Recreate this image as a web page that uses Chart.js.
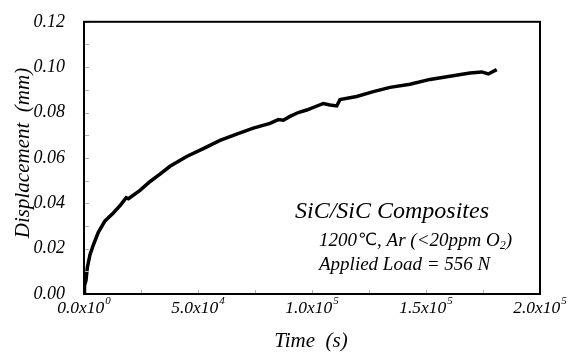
<!DOCTYPE html>
<html>
<head>
<meta charset="utf-8">
<script src="https://cdn.jsdelivr.net/npm/chart.js@4.4.1/dist/chart.umd.min.js"></script>
<style>
  html, body { margin: 0; padding: 0; background: #fff; }
  #wrap { width: 582px; height: 354px; }
</style>
</head>
<body>
<div id="wrap"><canvas id="creep" width="582" height="354"></canvas></div>
<script>
// creep curve, time in seconds / displacement in mm
const timeS = [0, 220, 877, 1450, 2630, 4080, 6270, 9210, 12850, 16000, 18500, 19500,
  24560, 29000, 33330, 37720, 45040, 52320, 59650, 66970, 74250, 81580, 85220, 87410,
  90350, 93990, 97680, 104960, 107890, 110830, 112280, 119610, 126890, 134210, 142980,
  151750, 160530, 169300, 174430, 177320, 181010];
const dispMm = [0, 0.0038, 0.0060, 0.0116, 0.0173, 0.0216, 0.0272, 0.0322, 0.0357, 0.0392, 0.0425, 0.0420,
  0.0457, 0.0496, 0.0528, 0.0563, 0.0606, 0.0641, 0.0677, 0.0705, 0.0731, 0.0752, 0.0769, 0.0766,
  0.0783, 0.0800, 0.0811, 0.0840, 0.0833, 0.0829, 0.0857, 0.0871, 0.0892, 0.0911, 0.0925,
  0.0946, 0.0960, 0.0974, 0.0979, 0.0970, 0.0989];

const xTickValues = [0, 50000, 100000, 150000, 200000];
const xTickMant = ['0.0x10', '5.0x10', '1.0x10', '1.5x10', '2.0x10'];
const xTickExp = ['0', '4', '5', '5', '5'];

const serif = '"Liberation Serif", "Times New Roman", serif';

// frame, inward minor ticks, axis titles, x labels with exponents, and the note
const decor = {
  id: 'decor',
  afterDraw(chart) {
    const ctx = chart.ctx;
    const a = chart.chartArea;
    const xs = chart.scales.x, ys = chart.scales.y;
    ctx.save();

    // small inward ticks
    ctx.strokeStyle = '#b0b0b0';
    ctx.lineWidth = 1;
    for (let v = 0.01; v < 0.12; v += 0.01) {
      const py = Math.round(ys.getPixelForValue(v)) + 0.5;
      ctx.beginPath(); ctx.moveTo(a.left, py); ctx.lineTo(a.left + 5, py); ctx.stroke();
    }
    for (let v = 25000; v < 200000; v += 25000) {
      const px = Math.round(xs.getPixelForValue(v)) + 0.5;
      ctx.beginPath(); ctx.moveTo(px, a.bottom); ctx.lineTo(px, a.bottom - 4); ctx.stroke();
    }

    // box
    ctx.strokeStyle = '#000';
    ctx.lineWidth = 2;
    ctx.strokeRect(a.left, a.top, a.right - a.left, a.bottom - a.top);

    ctx.fillStyle = '#000';

    // x tick labels: mantissa + raised exponent
    ctx.textBaseline = 'alphabetic';
    xTickValues.forEach((v, i) => {
      const px = xs.getPixelForValue(v);
      ctx.font = 'italic 17.5px ' + serif;
      const wm = ctx.measureText(xTickMant[i]).width;
      ctx.font = 'italic 11px ' + serif;
      const we = ctx.measureText(xTickExp[i]).width;
      const x0 = px - (wm + we + 1) / 2;
      ctx.font = 'italic 17.5px ' + serif;
      ctx.fillText(xTickMant[i], x0, 313);
      ctx.font = 'italic 11px ' + serif;
      ctx.fillText(xTickExp[i], x0 + wm + 1, 304);
    });

    // axis titles
    ctx.font = 'italic 21px ' + serif;
    ctx.textAlign = 'center';
    ctx.textBaseline = 'middle';
    ctx.fillText('Time  (s)', 311, 341);
    ctx.save();
    ctx.translate(23, 153);
    ctx.rotate(-Math.PI / 2);
    ctx.fillText('Displacement  (mm)', 0, 0);
    ctx.restore();

    // note
    ctx.textAlign = 'left';
    ctx.font = 'italic 24px ' + serif;
    ctx.fillText('SiC/SiC Composites', 295, 212);

    let x = 319;
    const y2 = 241;
    ctx.font = 'italic 19px ' + serif;
    ctx.fillText('1200', x, y2);
    x += ctx.measureText('1200').width + 1;
    ctx.font = '17px "DejaVu Sans", sans-serif';
    ctx.fillText('\u2103', x, y2);
    x += ctx.measureText('\u2103').width;
    ctx.font = 'italic 19px ' + serif;
    ctx.fillText(', Ar (<20ppm O', x, y2);
    x += ctx.measureText(', Ar (<20ppm O').width;
    ctx.font = 'italic 12px ' + serif;
    ctx.fillText('2', x, y2 + 5);
    x += ctx.measureText('2').width;
    ctx.font = 'italic 19px ' + serif;
    ctx.fillText(')', x, y2);

    ctx.fillText('Applied Load = 556 N', 319, 265);
    ctx.restore();
  }
};

new Chart(document.getElementById('creep'), {
  type: 'line',
  data: {
    datasets: [{
      data: timeS.map((t, i) => ({ x: t, y: dispMm[i] })),
      borderColor: '#000',
      borderWidth: 3.5,
      pointRadius: 0,
      tension: 0,
      fill: false
    }]
  },
  options: {
    responsive: false,
    animation: false,
    devicePixelRatio: 1,
    layout: { padding: { left: 0, top: 12, right: 42, bottom: 0 } },
    plugins: { legend: { display: false }, tooltip: { enabled: false } },
    scales: {
      x: {
        type: 'linear',
        min: 0,
        max: 200000,
        grid: { display: false },
        border: { display: false },
        ticks: { display: false, stepSize: 50000 },
        afterFit(scale) { scale.height = 60; }
      },
      y: {
        min: 0,
        max: 0.12,
        grid: { display: false },
        border: { display: false },
        ticks: {
          stepSize: 0.02,
          color: '#000',
          padding: 11,
          font: { family: serif, size: 18, style: 'italic' },
          callback: v => v.toFixed(2)
        },
        afterFit(scale) { scale.width = 84; }
      }
    }
  },
  plugins: [decor]
});
</script>
</body>
</html>
